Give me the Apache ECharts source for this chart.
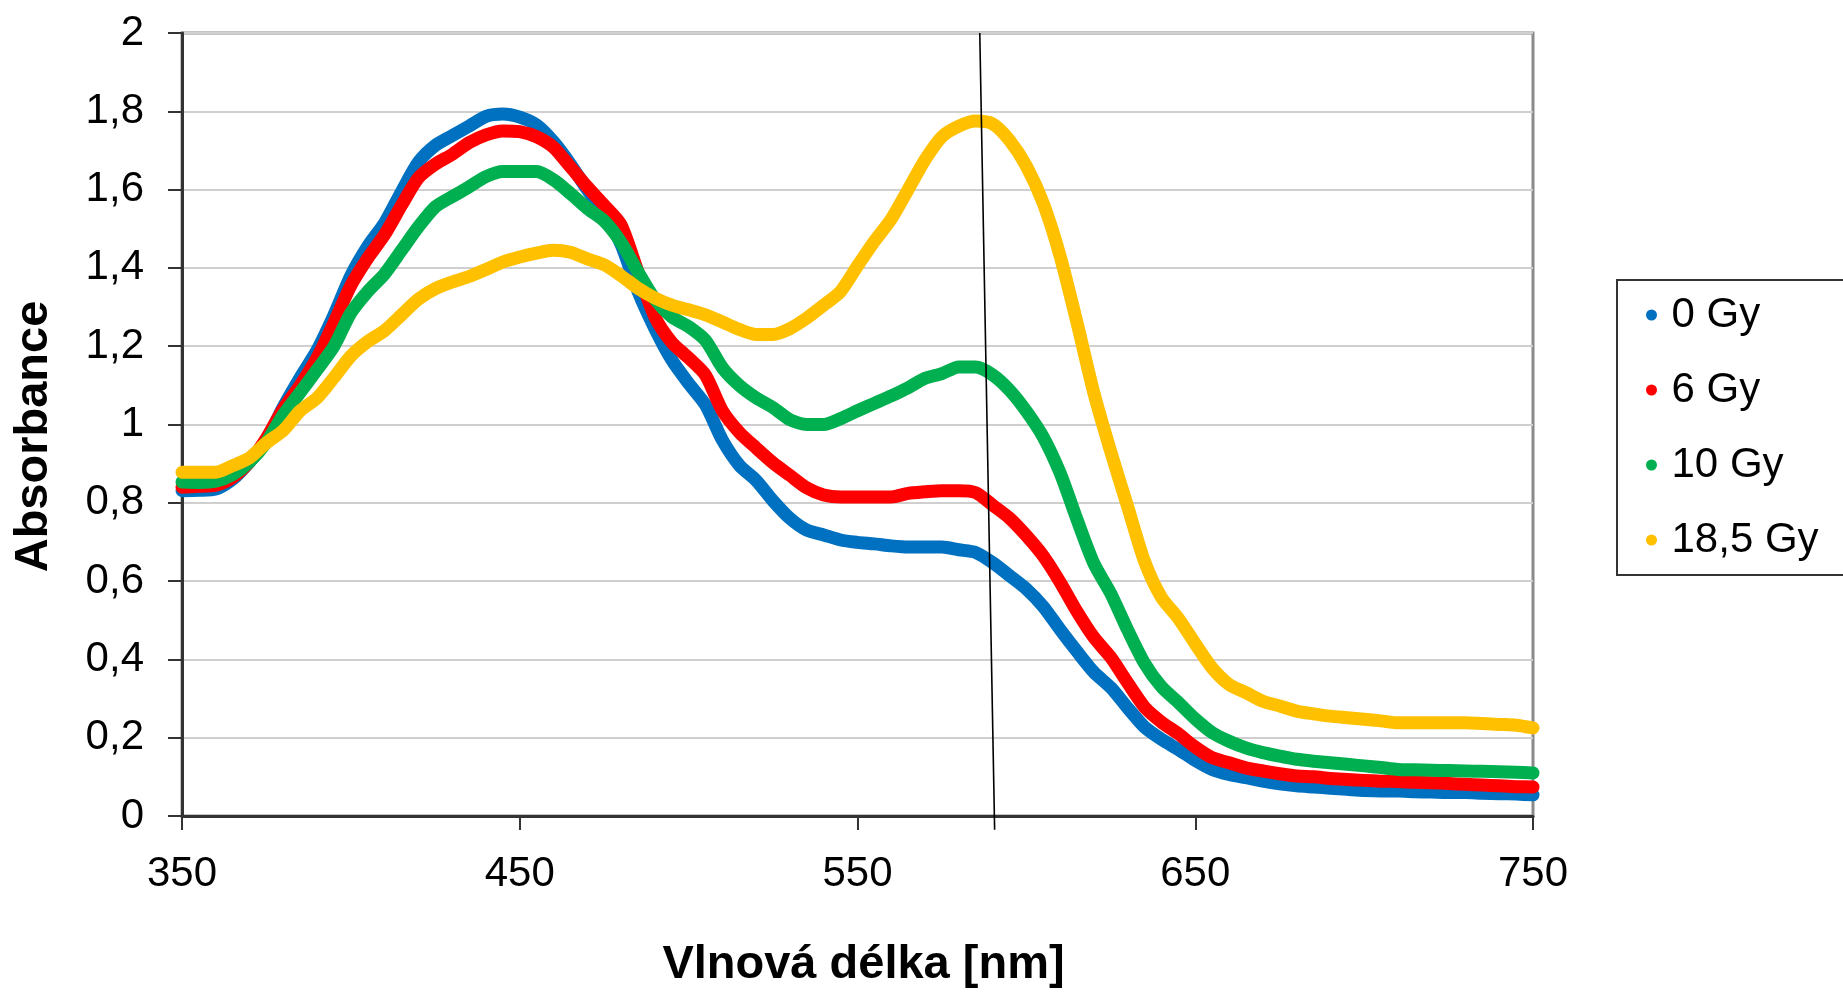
<!DOCTYPE html>
<html>
<head>
<meta charset="utf-8">
<script src="https://cdn.jsdelivr.net/npm/echarts@6/dist/echarts.min.js"></script>
<style>
html,body{margin:0;padding:0;background:#fff;}
#chart{width:1843px;height:994px;}
</style>
</head>
<body>
<div id="chart"></div>
<script>
const wavelengths = [350,355,360,365,370,375,380,385,390,395,400,405,410,415,420,425,430,435,440,445,450,455,460,465,470,475,480,485,490,495,500,505,510,515,520,525,530,535,540,545,550,555,560,565,570,575,580,585,590,595,600,605,610,615,620,625,630,635,640,645,650,655,660,665,670,675,680,685,690,695,700,705,710,715,720,725,730,735,740,745,750];

const gy0 = [0.831,0.832,0.835,0.86,0.905,0.96,1.045,1.12,1.19,1.28,1.38,1.455,1.515,1.595,1.67,1.713,1.738,1.762,1.787,1.793,1.785,1.765,1.722,1.665,1.6,1.54,1.46,1.34,1.245,1.165,1.105,1.05,0.96,0.896,0.857,0.805,0.76,0.73,0.718,0.705,0.699,0.695,0.69,0.687,0.687,0.687,0.68,0.673,0.647,0.614,0.58,0.535,0.476,0.42,0.367,0.328,0.276,0.227,0.196,0.17,0.142,0.119,0.106,0.098,0.089,0.082,0.077,0.074,0.071,0.068,0.065,0.064,0.064,0.062,0.061,0.06,0.06,0.058,0.057,0.056,0.054];

const gy6 = [0.84,0.842,0.845,0.865,0.905,0.965,1.04,1.1,1.17,1.26,1.355,1.425,1.485,1.56,1.63,1.665,1.69,1.72,1.74,1.75,1.748,1.735,1.708,1.658,1.607,1.56,1.51,1.39,1.275,1.21,1.17,1.126,1.035,0.98,0.94,0.902,0.87,0.838,0.82,0.815,0.815,0.815,0.815,0.824,0.828,0.831,0.831,0.826,0.794,0.761,0.716,0.664,0.597,0.522,0.456,0.405,0.34,0.278,0.24,0.21,0.176,0.149,0.136,0.123,0.115,0.108,0.102,0.1,0.096,0.093,0.091,0.089,0.088,0.086,0.085,0.083,0.081,0.079,0.077,0.075,0.074];

const gy10 = [0.853,0.852,0.855,0.872,0.905,0.955,1.025,1.082,1.14,1.2,1.285,1.34,1.385,1.445,1.505,1.556,1.582,1.607,1.633,1.646,1.646,1.646,1.625,1.59,1.552,1.52,1.465,1.39,1.32,1.275,1.25,1.215,1.145,1.1,1.068,1.043,1.012,1.0,1.0,1.015,1.035,1.054,1.073,1.094,1.118,1.13,1.147,1.147,1.127,1.088,1.034,0.968,0.876,0.757,0.645,0.568,0.475,0.39,0.33,0.29,0.248,0.213,0.191,0.174,0.162,0.153,0.145,0.14,0.136,0.132,0.128,0.124,0.119,0.118,0.117,0.116,0.115,0.114,0.113,0.112,0.11];

const gy185 = [0.878,0.878,0.878,0.895,0.915,0.953,0.985,1.035,1.068,1.12,1.175,1.212,1.24,1.28,1.32,1.347,1.364,1.378,1.396,1.415,1.428,1.438,1.445,1.44,1.423,1.408,1.38,1.348,1.323,1.305,1.293,1.28,1.262,1.243,1.23,1.23,1.245,1.272,1.305,1.34,1.405,1.468,1.525,1.6,1.676,1.735,1.762,1.775,1.768,1.726,1.66,1.565,1.43,1.26,1.08,0.93,0.79,0.65,0.558,0.505,0.44,0.378,0.336,0.315,0.293,0.281,0.268,0.261,0.255,0.251,0.247,0.243,0.238,0.238,0.238,0.238,0.238,0.236,0.234,0.232,0.225];

const seriesNames = ['0 Gy','6 Gy','10 Gy','18,5 Gy'];
const seriesColors = ['#0070C0','#FF0000','#00B050','#FFC000'];
const seriesValues = [gy0, gy6, gy10, gy185];

// hand-drawn marker line (endpoints in data units: [wavelength, absorbance])
const markerLine = [[586.2, 2.0], [590.6, -0.035]];

const xTicks = [350, 450, 550, 650, 750];

const FONT = 'Liberation Sans, Arial, sans-serif';

const chart = echarts.init(document.getElementById('chart'), null, {renderer:'canvas'});

const series = seriesValues.map((vals, i) => ({
  name: seriesNames[i],
  type: 'line',
  data: wavelengths.map((w, j) => [w, vals[j]]),
  smooth: 0.25,
  showSymbol: false,
  symbol: 'circle',
  lineStyle: {color: seriesColors[i], width: 13, cap: 'round', join: 'round'},
  itemStyle: {color: seriesColors[i]},
  z: 2 + i,
  silent: true,
  animation: false
}));

series.push({
  name: 'marker',
  type: 'line',
  data: markerLine,
  showSymbol: false,
  symbol: 'none',
  clip: false,
  lineStyle: {color: '#000', width: 1.6},
  z: 10,
  silent: true,
  animation: false
});

chart.setOption({
  animation: false,
  backgroundColor: '#fff',
  grid: {
    left: 182, top: 33, right: 310, bottom: 171,
    show: true, borderColor: '#8a8a8a', borderWidth: 3, backgroundColor: 'transparent'
  },
  legend: {
    data: seriesNames,
    orient: 'vertical',
    left: 1617, top: 280,
    icon: 'circle',
    itemWidth: 30, itemHeight: 11,
    itemGap: 25,
    padding: [10, 80, 10, 29],
    borderColor: '#333', borderWidth: 2,
    backgroundColor: '#fff',
    selectedMode: false,
    textStyle: {fontFamily: FONT, fontSize: 42, color: '#000', lineHeight: 50}
  },
  xAxis: {
    type: 'value', min: 350, max: 750, interval: 100,
    name: 'Vlnová délka [nm]', nameLocation: 'middle', nameGap: 126,
    nameTextStyle: {fontFamily: FONT, fontSize: 47, fontWeight: 'bold', color: '#000', padding: [0, 0, 0, 12]},
    axisLine: {show: true, onZero: false, lineStyle: {color: '#333', width: 3}},
    axisTick: {show: true, length: 14, lineStyle: {color: '#333', width: 2}},
    axisLabel: {fontFamily: FONT, fontSize: 42, color: '#000', margin: 37,
      customValues: xTicks},
    splitLine: {show: false}
  },
  yAxis: {
    type: 'value', min: 0, max: 2, interval: 0.2,
    name: 'Absorbance', nameLocation: 'middle', nameGap: 124,
    nameTextStyle: {fontFamily: FONT, fontSize: 47, fontWeight: 'bold', color: '#000', padding: [0, 24, 0, 0]},
    axisLine: {show: true, lineStyle: {color: '#333', width: 3}},
    axisTick: {show: true, length: 14, lineStyle: {color: '#333', width: 2}},
    axisLabel: {fontFamily: FONT, fontSize: 42, color: '#000', margin: 38,
      formatter: v => String(Math.round(v * 10) / 10).replace('.', ',')},
    splitLine: {show: true, lineStyle: {color: '#cfcfcf', width: 2}}
  },
  series: series
});
</script>
</body>
</html>
